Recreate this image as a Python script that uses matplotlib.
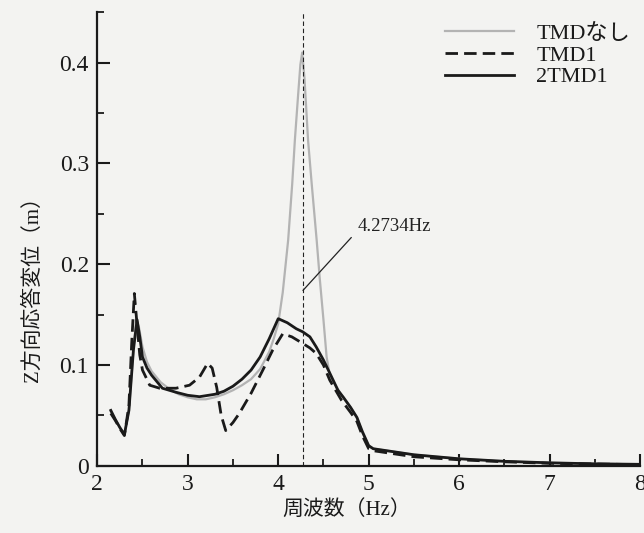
import matplotlib
matplotlib.use("Agg")
import matplotlib.pyplot as plt
from matplotlib.ticker import MultipleLocator

plt.rcParams['font.family'] = ['Liberation Serif', 'Noto Sans CJK JP', 'DejaVu Sans']

# TMDなし (no damper)
freq_none = [2.15, 2.2, 2.25, 2.3, 2.35, 2.4, 2.43, 2.46, 2.5, 2.55, 2.6, 2.7, 2.8, 2.9,
             3.0, 3.1, 3.2, 3.3, 3.4, 3.5, 3.6, 3.7, 3.8, 3.9, 3.95, 4.0, 4.05, 4.11,
             4.155, 4.184, 4.22, 4.245, 4.265, 4.29, 4.33, 4.37, 4.425, 4.46, 4.5, 4.535,
             4.57, 4.6, 4.7, 4.8, 4.87, 4.93, 5.0, 5.05, 5.2, 5.5, 6.0, 6.5, 7.0, 7.5, 8.0]
disp_none = [0.054, 0.046, 0.038, 0.031, 0.055, 0.115, 0.145, 0.138, 0.118, 0.103, 0.094,
             0.083, 0.076, 0.071, 0.068, 0.066, 0.066, 0.068, 0.071, 0.075, 0.080, 0.086,
             0.096, 0.113, 0.126, 0.141, 0.172, 0.224, 0.280, 0.323, 0.368, 0.398, 0.410,
             0.385, 0.323, 0.280, 0.224, 0.185, 0.145, 0.108, 0.090, 0.085, 0.070, 0.058,
             0.048, 0.033, 0.020, 0.017, 0.015, 0.011, 0.007, 0.0045, 0.003, 0.002, 0.0015]

# TMD1
freq_tmd1 = [2.15, 2.2, 2.25, 2.3, 2.35, 2.38, 2.41, 2.44, 2.47, 2.5, 2.58, 2.69, 2.87,
             3.02, 3.13, 3.22, 3.27, 3.32, 3.37, 3.42, 3.5, 3.57, 3.7, 3.83, 3.94, 4.05,
             4.15, 4.27, 4.35, 4.42, 4.5, 4.57, 4.7, 4.8, 4.87, 4.93, 5.0, 5.05, 5.2,
             5.5, 6.0, 6.5, 7.0, 7.5, 8.0]
disp_tmd1 = [0.052, 0.045, 0.037, 0.030, 0.060, 0.120, 0.171, 0.140, 0.110, 0.095, 0.080,
             0.077, 0.077, 0.080, 0.088, 0.1017, 0.097, 0.078, 0.050, 0.035, 0.043, 0.052,
             0.072, 0.095, 0.115, 0.131, 0.128, 0.1215, 0.117, 0.1115, 0.100, 0.085,
             0.065, 0.053, 0.044, 0.030, 0.017, 0.015, 0.013, 0.009, 0.006, 0.004,
             0.0025, 0.0018, 0.0012]

# 2TMD1
freq_2tmd1 = [2.15, 2.2, 2.25, 2.3, 2.35, 2.4, 2.44, 2.47, 2.5, 2.55, 2.6, 2.72, 2.87, 3.0,
              3.13, 3.3, 3.4, 3.5, 3.6, 3.7, 3.8, 3.9, 4.0, 4.1, 4.2, 4.27, 4.35, 4.42,
              4.5, 4.57, 4.66, 4.72, 4.8, 4.87, 4.93, 5.0, 5.05, 5.2, 5.5, 6.0, 6.5, 7.0,
              7.5, 8.0]
disp_2tmd1 = [0.055, 0.046, 0.038, 0.031, 0.055, 0.115, 0.145, 0.128, 0.108, 0.097, 0.090,
              0.077, 0.073, 0.070, 0.0686, 0.071, 0.074, 0.079, 0.086, 0.095, 0.108, 0.126,
              0.146, 0.142, 0.136, 0.133, 0.128, 0.118, 0.105, 0.092, 0.075, 0.068, 0.058,
              0.048, 0.034, 0.020, 0.017, 0.015, 0.011, 0.007, 0.0045, 0.003, 0.002,
              0.0015]

peak_freq = 4.2734
peak_label = "4.2734Hz"

fig = plt.figure(figsize=(6.44, 5.33), dpi=100, facecolor='#f3f3f1')
ax = fig.add_axes([0.151, 0.126, 0.843, 0.851])
ax.set_facecolor('#f3f3f1')

ax.plot(freq_none, disp_none, color='#b3b3b3', lw=1.6, label='TMDなし')
ax.plot(freq_tmd1, disp_tmd1, color='#1a1a1a', lw=2.0, ls=(0, (4.5, 2.2)), label='TMD1')
ax.plot(freq_2tmd1, disp_2tmd1, color='#1a1a1a', lw=2.0, label='2TMD1')

ax.axvline(peak_freq, color='#222222', lw=0.8, ls=(0, (4, 2.5)))
ax.annotate(peak_label, xy=(peak_freq, 0.174), xytext=(4.88, 0.237), va='center',
            fontsize=13.5, color='#222222',
            arrowprops=dict(arrowstyle='-', color='#222222', lw=0.9,
                            relpos=(0, 0.3), shrinkA=4, shrinkB=0))

ax.set_xlim(2, 8)
ax.set_ylim(0, 0.45)
ax.xaxis.set_major_locator(MultipleLocator(1))
ax.xaxis.set_minor_locator(MultipleLocator(0.5))
ax.yaxis.set_major_locator(MultipleLocator(0.1))
ax.yaxis.set_minor_locator(MultipleLocator(0.05))
ax.set_yticks([0, 0.1, 0.2, 0.3, 0.4])
ax.set_yticklabels(['0', '0.1', '0.2', '0.3', '0.4'])

for side in ['top', 'right']:
    ax.spines[side].set_visible(False)
for side in ['left', 'bottom']:
    ax.spines[side].set_linewidth(1.6)
    ax.spines[side].set_color('#1a1a1a')

ax.tick_params(which='major', direction='in', length=9, width=1.5, labelsize=17,
               colors='#1a1a1a', pad=6)
ax.tick_params(which='minor', direction='in', length=5, width=1.3, colors='#1a1a1a')

ax.set_xlabel('周波数（Hz）', fontsize=15, color='#1a1a1a')
ax.set_ylabel('Z方向応答変位（m）', fontsize=15, color='#1a1a1a')
ax.xaxis.set_label_coords(0.4586, -0.075)
ax.yaxis.set_label_coords(-0.1, 0.40)

leg = ax.legend(loc='upper left', bbox_to_anchor=(0.641, 0.975), frameon=False,
                fontsize=16, handlelength=3.1, handletextpad=1.0, labelspacing=0.05,
                borderpad=0, borderaxespad=0)
for t in leg.get_texts():
    t.set_color('#1a1a1a')

plt.savefig('out.png', dpi=100, facecolor=fig.get_facecolor())
